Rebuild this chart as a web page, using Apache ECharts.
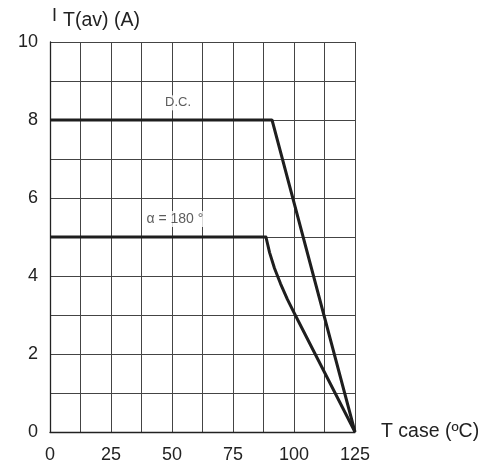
<!DOCTYPE html>
<html>
<head>
<meta charset="utf-8">
<script src="https://cdn.jsdelivr.net/npm/echarts@6/dist/echarts.min.js"></script>
<style>html,body{margin:0;padding:0;background:#fff}#c{width:488px;height:466px}</style>
</head>
<body>
<div id="c"></div>
<script>
// Data
var dcCurve = [[0, 8], [91, 8], [125, 0]];
var alphaCurve = [[0, 5], [88.5, 5], [90, 4.6], [92, 4.2], [94.5, 3.8], [97.3, 3.4], [100.5, 3], [125, 0]];
var curveLabels = ['D.C.', 'α = 180 °'];
var labelPositions = [[52.5, 8.44], [51.2, 5.46]];
var labelSizes = [13, 14];
var xTickLabels = [0, 25, 50, 75, 100, 125];
var yTickLabels = [0, 2, 4, 6, 8, 10];
var xTitle = 'T case (ºC)';
var yTitleMain = 'I';
var yTitleSub = 'T(av) (A)';

var font = 'Liberation Sans, Arial, Helvetica, sans-serif';
var chart = echarts.init(document.getElementById('c'));
chart.setOption({
  animation: false,
  backgroundColor: '#fff',
  grid: { left: 50, right: 133, top: 42, bottom: 34, containLabel: false },
  xAxis: {
    type: 'value', min: 0, max: 125, interval: 12.5,
    name: xTitle, nameLocation: 'end', nameGap: 26,
    nameTextStyle: { fontFamily: font, fontSize: 19.5, color: '#222', verticalAlign: 'middle' },
    axisLine: { show: true, lineStyle: { color: '#222', width: 1.3 } },
    axisTick: { show: false },
    axisLabel: {
      fontFamily: font, fontSize: 18, color: '#222', margin: 14,
      formatter: function (v) { return xTickLabels.indexOf(v) >= 0 ? String(v) : ''; }
    },
    splitLine: { show: true, lineStyle: { color: '#444', width: 1 } }
  },
  yAxis: {
    type: 'value', min: 0, max: 10, interval: 1,
    name: '{a|' + yTitleMain + '}{b|' + yTitleSub + '}', nameLocation: 'end', nameGap: 8,
    nameTextStyle: {
      align: 'left', padding: [0, 0, 0, 2],
      rich: {
        a: { fontFamily: font, fontSize: 18, color: '#222', padding: [0, 6, 9, 0] },
        b: { fontFamily: font, fontSize: 19.5, color: '#222' }
      }
    },
    axisLine: { show: true, lineStyle: { color: '#222', width: 1.3 } },
    axisTick: { show: false },
    axisLabel: {
      fontFamily: font, fontSize: 18, color: '#222', margin: 12,
      formatter: function (v) { return yTickLabels.indexOf(v) >= 0 ? String(v) : ''; }
    },
    splitLine: { show: true, lineStyle: { color: '#444', width: 1 } }
  },
  series: [
    { type: 'line', data: dcCurve, symbol: 'none', lineStyle: { color: '#1e1e1e', width: 3 }, z: 5 },
    { type: 'line', data: alphaCurve, symbol: 'none', lineStyle: { color: '#1e1e1e', width: 3, join: 'round' }, z: 5 },
    {
      type: 'scatter', symbolSize: 0, z: 6,
      data: labelPositions.map(function (p, i) {
        return { value: p, name: curveLabels[i], label: { fontSize: labelSizes[i] } };
      }),
      label: {
        show: true, position: 'inside', formatter: '{b}',
        fontFamily: font, color: '#333',
        backgroundColor: '#fff', padding: [1, 2]
      }
    }
  ]
});
</script>
</body>
</html>
